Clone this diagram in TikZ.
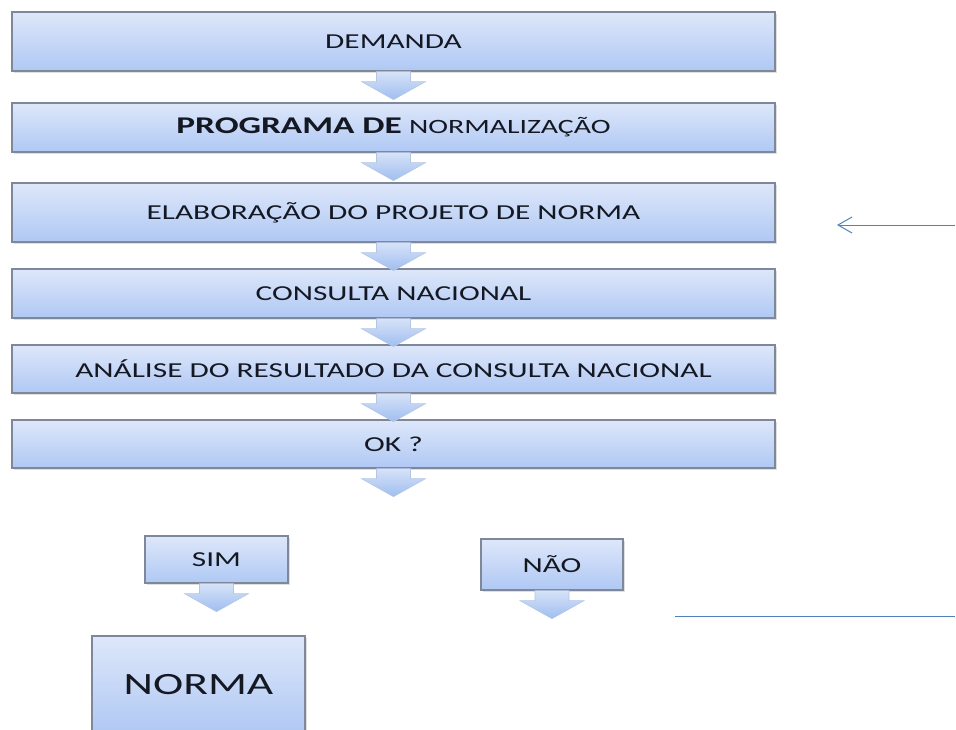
\documentclass[tikz,border=0pt]{standalone}
\usepackage{fontspec}
\setmainfont{Carlito}[FakeStretch=1.47]
\usetikzlibrary{shadows,arrows.meta,calc}
\definecolor{boxtop}{HTML}{DEE7FA}
\definecolor{boxbot}{HTML}{AFC8F4}
\definecolor{boxline}{HTML}{7F8898}
\definecolor{arrtop}{HTML}{D6E2F8}
\definecolor{arrbot}{HTML}{9FBEF0}
\definecolor{arrline}{HTML}{B4C6E2}
\definecolor{txt}{HTML}{141822}
\definecolor{lineblue}{HTML}{4F81BD}
\tikzset{
  box/.style={draw=boxline, line width=1.3pt, top color=boxtop, bottom color=boxbot,
    inner sep=0pt, text=txt, font=\fontsize{21.3}{23}\selectfont,
    drop shadow={opacity=0.25, shadow xshift=1.5pt, shadow yshift=-1.5pt}},
  barrow/.style={draw=arrline, line width=0.6pt, top color=arrtop, bottom color=arrbot},
  thinline/.style={draw=lineblue, line width=1pt}
}
\newcommand{\blockarrow}[1]{%
  \path[barrow] ($(#1.south)+(-17,0)$) -- ++(0,10) -- ++(-15,0) -- ++(32,18) -- ++(32,-18) -- ++(-15,0) -- ++(0,-10) -- cycle;}
\begin{document}
\begin{tikzpicture}[x=1pt,y=-1pt]
\useasboundingbox (0,0) rectangle (956,729);
\node[box, minimum width=763pt, minimum height=59pt] (b1) at (393.5,41.5) {DEMANDA};
\node[box, minimum width=763pt, minimum height=49pt] (b2) at (393.5,127.5) {{\fontsize{24}{26}\selectfont\bfseries PROGRAMA DE} {\fontsize{20.3}{23}\selectfont NORMALIZAÇÃO}};
\node[box, minimum width=763pt, minimum height=59pt] (b3) at (393.5,212.5) {ELABORAÇÃO DO PROJETO DE NORMA};
\node[box, minimum width=763pt, minimum height=49pt] (b4) at (393.5,293.5) {CONSULTA NACIONAL};
\node[box, minimum width=763pt, minimum height=48pt] (b5) at (393.5,369) {ANÁLISE DO RESULTADO DA CONSULTA NACIONAL};
\node[box, minimum width=763pt, minimum height=48pt] (b6) at (393.5,444) {OK ?};
\node[box, minimum width=143pt, minimum height=47pt] (sim) at (216.5,559.5) {SIM};
\node[box, minimum width=142pt, minimum height=51pt] (nao) at (552,564.5) {NÃO};
\node[box, minimum width=213pt, minimum height=98pt, font=\fontsize{31}{32}\selectfont] (norma) at (198.5,685) {NORMA};
\blockarrow{b1}
\blockarrow{b2}
\blockarrow{b3}
\blockarrow{b4}
\blockarrow{b5}
\blockarrow{b6}
\blockarrow{sim}
\blockarrow{nao}
\coordinate (ra) at (955,225);
\coordinate (rb) at (837,225);
\draw[thinline, -{Straight Barb[length=14pt,width=16pt,line width=1pt]}] (ra) -- (rb);
\coordinate (la) at (675,616);
\coordinate (lb) at (955,616);
\draw[thinline] (la) -- (lb);
\end{tikzpicture}
\end{document}
